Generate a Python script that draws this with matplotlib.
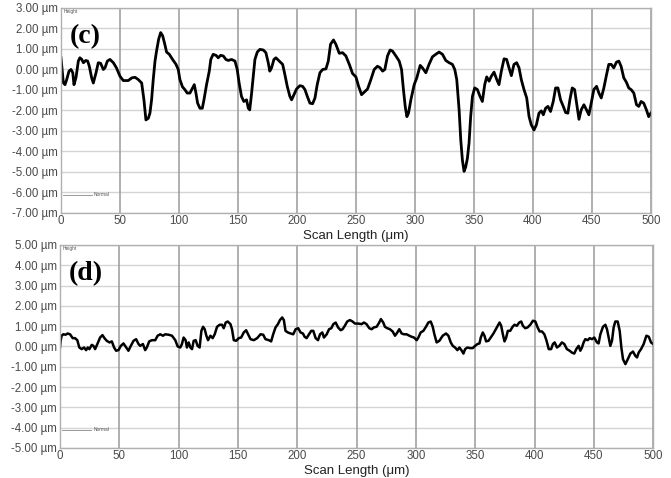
import numpy as np
import matplotlib
matplotlib.use("Agg")
import matplotlib.pyplot as plt

# profile (c)
x_c = [0, 2, 3.4, 4.8, 6.8, 8.5, 10, 11, 12.7, 14.7, 16, 17.5, 19, 21, 22.6, 24, 26, 27.4, 29.7, 31.6,
       33.6, 35.9, 37.3, 39.3, 41.5, 44.4, 47, 50, 52.8, 57, 60, 62.7, 65.5, 68.4, 70.3, 72, 74, 75.4,
       76.8, 78.2, 79.7, 81, 82.8, 84.5, 86.2, 88, 89.5, 91.8, 94.6, 97.5, 99.4, 100.8, 103, 105, 107,
       109.3, 111.6, 113, 114.4, 115.8, 117.8, 119.8, 121.2, 123.4, 125.7, 127, 129, 131.4, 133.3, 135.3,
       137.6, 139.8, 141.8, 144.6, 147.5, 149.4, 151, 153, 155, 157.3, 158.8, 160, 161.6, 163, 164.4,
       166.4, 168.6, 171.5, 173.7, 175.7, 177, 178.5, 180.5, 182.2, 185, 187.9, 189.8, 191.8, 194,
       195.5, 197.5, 199.7, 202.5, 204.8, 206.8, 208.8, 211, 213.3, 215.3, 217.2, 219.5, 221.8, 224.6,
       226.6, 228.5, 231, 233, 235.9, 238.7, 241.5, 244.4, 247.2, 250, 252.3, 254.8, 257, 259.9, 262.7,
       265.5, 268.3, 270.6, 272.6, 274.5, 276.8, 279, 281, 283.9, 286.7, 288.7, 290.3, 291.8, 293.2,
       294.6, 296.6, 299.4, 301.6, 304.5, 306.4, 309.3, 312, 314.9, 317.7, 320.5, 323.4, 326.2, 329,
       331.8, 333.8, 335.5, 337.5, 338.9, 340.3, 341.7, 343.1, 344.5, 345.9, 347.3, 348.8, 350.7, 353,
       355.2, 357.2, 359.2, 360.9, 362.9, 364.8, 367.1, 369.4, 371.3, 373.3, 375.6, 377.8, 379.8, 381.8,
       384, 386.3, 388.3, 390.2, 392.5, 394.8, 396.8, 398.7, 401, 403, 405.2, 407.2, 408.9, 410.8,
       412.8, 415, 417.3, 419.3, 421.3, 423.5, 425.8, 427.8, 429.7, 431.4, 433.4, 435.4, 437.1, 439.1,
       441, 443.3, 445.5, 447.5, 449.5, 451.7, 454, 456, 458, 460.2, 462.5, 464.4, 466.4, 468.6, 470.9,
       472.9, 474.8, 477.1, 479.3, 481.3, 483.3, 485.6, 487.9, 489.8, 491.8, 494, 496.3, 498.2, 500]
y_c = [0.57, -0.65, -0.74, -0.5, -0.08, 0.0, -0.16, -0.74, -0.4, 0.41, 0.57, 0.5, 0.33, 0.44, 0.41,
       0.16, -0.41, -0.66, -0.16, 0.33, 0.3, 0.0, 0.08, 0.41, 0.49, 0.33, 0.08, -0.33, -0.54, -0.54,
       -0.41, -0.38, -0.49, -0.66, -1.48, -2.46, -2.38, -2.13, -1.48, -0.49, 0.41, 0.9, 1.48, 1.8, 1.64,
       1.23, 0.85, 0.74, 0.49, 0.25, 0.0, -0.49, -0.85, -0.98, -1.15, -1.15, -0.9, -0.74, -1.15, -1.64,
       -1.89, -1.89, -1.48, -0.74, -0.08, 0.49, 0.74, 0.69, 0.57, 0.69, 0.66, 0.49, 0.44, 0.49, 0.41,
       0.0, -0.66, -1.31, -1.56, -1.48, -1.89, -1.97, -1.15, -0.33, 0.49, 0.85, 0.98, 0.95, 0.82, 0.33,
       -0.08, 0.08, 0.49, 0.57, 0.41, 0.25, -0.25, -0.82, -1.31, -1.48, -1.23, -0.95, -0.79, -0.82,
       -0.98, -1.31, -1.64, -1.67, -1.39, -0.74, -0.16, 0.0, 0.03, 0.41, 1.23, 1.44, 1.23, 0.79, 0.82,
       0.66, 0.25, -0.2, -0.36, -0.82, -1.23, -1.11, -0.95, -0.49, 0.0, 0.16, 0.08, -0.08, 0.0, 0.66,
       0.95, 0.9, 0.66, 0.41, 0.0, -0.98, -1.8, -2.3, -2.13, -1.48, -0.74, -0.41, 0.2, 0.08, -0.16, 0.25,
       0.62, 0.74, 0.85, 0.74, 0.44, 0.33, 0.25, 0.0, -0.49, -1.97, -3.44, -4.43, -4.97, -4.75, -4.34,
       -3.6, -2.3, -1.31, -0.9, -0.98, -1.31, -1.56, -0.74, -0.36, -0.57, -0.33, -0.13, -0.49, -0.74,
       -0.08, 0.52, 0.49, 0.08, -0.3, 0.25, 0.33, 0.08, -0.49, -0.98, -1.39, -2.3, -2.7, -2.95, -2.7,
       -2.13, -2.02, -2.21, -1.89, -1.8, -2.05, -1.56, -0.9, -0.9, -1.48, -1.8, -2.1, -2.13, -1.48, -0.9,
       -0.98, -1.64, -2.43, -1.97, -1.72, -1.97, -2.21, -1.64, -0.98, -0.82, -1.15, -1.39, -0.9, -0.25,
       0.25, 0.25, 0.08, 0.36, 0.41, 0.16, -0.41, -0.62, -0.9, -0.98, -1.15, -1.72, -1.8, -1.56, -1.64,
       -1.97, -2.3, -2.13]

# profile (d)
x_d = [0, 0.5, 1.4, 2.8, 4.8, 6.5, 8.5, 10.7, 12.7, 14.6, 16.3, 18.3, 20.3, 22, 23.4, 24.8, 26.8, 28.2,
       29.6, 31.5, 33.8, 35.8, 37.5, 39.4, 41.7, 43.7, 45.6, 47.3, 49.3, 51.3, 53.5, 55.8, 57.7, 59.7,
       62, 64.2, 66.2, 67.6, 69.9, 71.8, 73.2, 75.2, 77.5, 80.3, 82.3, 84.5, 86.8, 88.7, 91.5, 94.4,
       97.2, 99.2, 101.4, 102.8, 104.2, 105.9, 107, 108.5, 109.9, 111.3, 112.7, 114.4, 116, 117.7, 119.2,
       120.6, 122, 123.4, 124.8, 126.8, 128.7, 130.4, 132.4, 134.6, 136.6, 138, 139.7, 141.4, 143.7,
       145, 146.5, 148.5, 150.7, 152.7, 154.9, 156.9, 158.6, 160.6, 163.4, 166.2, 169, 171.3, 173.2,
       176.1, 178, 179.7, 181.7, 183.7, 185.4, 187.3, 188.7, 190.1, 192.1, 194.4, 196.6, 198.6, 200.8,
       202.8, 204.8, 206.2, 207.9, 209.9, 211.8, 213.5, 215.5, 217.5, 219.2, 221.1, 222.5, 224.8, 226.8,
       228.7, 230.4, 232.4, 234.4, 236.6, 238.2, 240.1, 242.1, 244.4, 246.6, 248.6, 251.4, 254.2, 256.2,
       258.4, 260.7, 262.7, 264.6, 266.9, 269.1, 270.5, 272.5, 273.9, 275.9, 278.1, 280.4, 282.4, 283.8,
       286, 288, 290, 292.2, 294.5, 296.4, 298.4, 300.7, 302.1, 304, 306.3, 308.5, 310.5, 312.5, 314.2,
       315.6, 317.5, 319.8, 322.6, 325.4, 327.4, 329.4, 331.1, 333, 335, 336.7, 338.7, 340.1, 341.5,
       343.4, 345.7, 347.9, 349.9, 351.9, 353.6, 354.7, 356.4, 357.8, 359.2, 361.2, 363.1, 365.4, 367.4,
       369, 370.5, 371.9, 373.3, 374.7, 376.1, 377.5, 379.5, 381.5, 383.1, 385.1, 387.1, 388.8, 390.2,
       392.2, 394.2, 396.4, 398.7, 400.7, 402.6, 404.3, 406.3, 408.3, 410, 412, 414, 415.5, 417, 418.9,
       420.9, 423.1, 425.1, 427.3, 429.6, 431.5, 433.5, 435.2, 437.2, 438.6, 440, 441.4, 442.8, 444.8,
       446.5, 448.4, 450.4, 452.6, 454, 455.5, 457.7, 459.7, 461.1, 462.5, 463.9, 465.3, 466.7, 468.1,
       470.1, 471.8, 473.2, 474.6, 476.6, 478.6, 480.8, 483, 485, 486.4, 487.8, 489.8, 492, 494.3,
       496.3, 498.2, 500]
y_d = [-0.05, 0.28, 0.53, 0.6, 0.58, 0.64, 0.6, 0.41, 0.41, 0.31, -0.05, -0.13, -0.05, -0.18, -0.05,
       -0.13, 0.08, 0.03, -0.13, 0.12, 0.44, 0.56, 0.41, 0.28, 0.2, 0.25, -0.05, -0.21, -0.18, 0.03,
       0.15, -0.05, -0.21, 0.03, 0.28, 0.36, 0.12, 0.03, 0.12, -0.18, -0.05, 0.25, 0.31, 0.31, 0.53,
       0.6, 0.53, 0.6, 0.58, 0.53, 0.31, 0.0, -0.05, 0.12, 0.44, 0.31, -0.05, 0.2, -0.05, -0.13, 0.28,
       0.31, 0.03, -0.05, 0.77, 0.97, 0.85, 0.53, 0.31, 0.53, 0.41, 0.6, 0.97, 1.07, 1.07, 0.9, 1.18,
       1.23, 1.1, 0.85, 0.31, 0.28, 0.41, 0.44, 0.69, 0.8, 0.6, 0.36, 0.31, 0.41, 0.6, 0.58, 0.36, 0.31,
       0.25, 0.6, 0.94, 1.1, 1.3, 1.43, 1.3, 0.77, 0.69, 0.64, 0.6, 0.85, 0.9, 0.69, 0.64, 0.48, 0.41,
       0.6, 0.77, 0.77, 0.41, 0.31, 0.6, 0.69, 0.44, 0.6, 0.85, 0.9, 1.1, 1.18, 0.94, 0.8, 0.85, 1.02,
       1.23, 1.3, 1.23, 1.13, 1.13, 1.1, 1.18, 1.1, 0.9, 0.85, 0.94, 0.97, 1.18, 1.35, 1.18, 0.97, 0.9,
       0.85, 0.74, 0.53, 0.64, 0.85, 0.64, 0.6, 0.6, 0.53, 0.48, 0.44, 0.31, 0.44, 0.69, 0.77, 0.97,
       1.18, 1.23, 0.97, 0.6, 0.2, 0.28, 0.53, 0.64, 0.53, 0.2, 0.03, -0.05, -0.18, -0.05, -0.21, -0.35,
       -0.13, -0.05, -0.08, -0.08, 0.03, 0.12, 0.15, 0.44, 0.69, 0.53, 0.25, 0.28, 0.44, 0.64, 0.85,
       1.02, 1.18, 1.02, 0.6, 0.25, 0.44, 0.77, 0.77, 0.97, 1.07, 1.02, 1.18, 1.23, 1.02, 0.9, 0.94,
       1.07, 1.27, 1.23, 0.94, 0.74, 0.74, 0.6, 0.31, -0.13, -0.13, 0.12, 0.2, -0.05, 0.03, 0.2, 0.12,
       -0.13, -0.21, -0.3, -0.35, -0.13, 0.03, -0.21, -0.05, 0.2, 0.36, 0.31, 0.41, 0.36, 0.44, 0.2,
       0.15, 0.6, 0.97, 1.07, 0.85, 0.44, 0.03, 0.28, 0.94, 1.23, 1.23, 0.77, -0.05, -0.63, -0.87,
       -0.63, -0.35, -0.25, -0.46, -0.54, -0.3, -0.13, 0.12, 0.53, 0.48, 0.2, 0.12]

x_ticks = [0, 50, 100, 150, 200, 250, 300, 350, 400, 450, 500]
yticks_c = list(range(-7, 4))
yticks_d = list(range(-5, 6))

plt.rcParams['font.family'] = ['Liberation Sans', 'DejaVu Sans']

fig = plt.figure(figsize=(6.71, 4.78), dpi=100)
ax1 = fig.add_axes([0.0909, 0.5544, 0.879, 0.4289])
ax2 = fig.add_axes([0.0894, 0.0628, 0.884, 0.4247])


def style(ax, yticks, label):
	ax.set_xlim(0, 500)
	ax.set_ylim(yticks[0], yticks[-1])
	ax.set_xticks(x_ticks)
	ax.set_yticks(yticks)
	ax.set_yticklabels(["%.2f µm" % v for v in yticks])
	ax.tick_params(length=0, labelsize=8.3, colors='#4a4a4a', pad=2)
	ax.tick_params(axis='x', pad=1.5)
	for y in yticks:
		ax.axhline(y, color='#d4d4d4', lw=1.0, zorder=0)
	for x in x_ticks:
		ax.axvline(x, color='#9a9a9a', lw=1.1, zorder=0)
	for s in ax.spines.values():
		s.set_color('#b0b0b0')
		s.set_linewidth(1.0)
	ax.set_xlabel("Scan Length (μm)", fontsize=9.5, color='#222222', labelpad=2)
	ax.text(0.014, 0.92, label, transform=ax.transAxes, fontsize=20, fontweight='bold',
			family='Liberation Serif', va='top', ha='left')
	ax.text(0.004, 0.997, "Height", transform=ax.transAxes, fontsize=3.5, color='#555555', va='top')
	ax.plot([2, 26], [yticks[0] + 0.9, yticks[0] + 0.9], color='#888888', lw=0.6)
	ax.text(28, yticks[0] + 0.9, "Normal", fontsize=3.5, color='#555555', va='center')


style(ax1, yticks_c, "(c)")
style(ax2, yticks_d, "(d)")
ax1.plot(x_c, y_c, color='black', lw=2.0)
ax2.plot(x_d, y_d, color='black', lw=1.8)

fig.savefig("out.png", dpi=100)
